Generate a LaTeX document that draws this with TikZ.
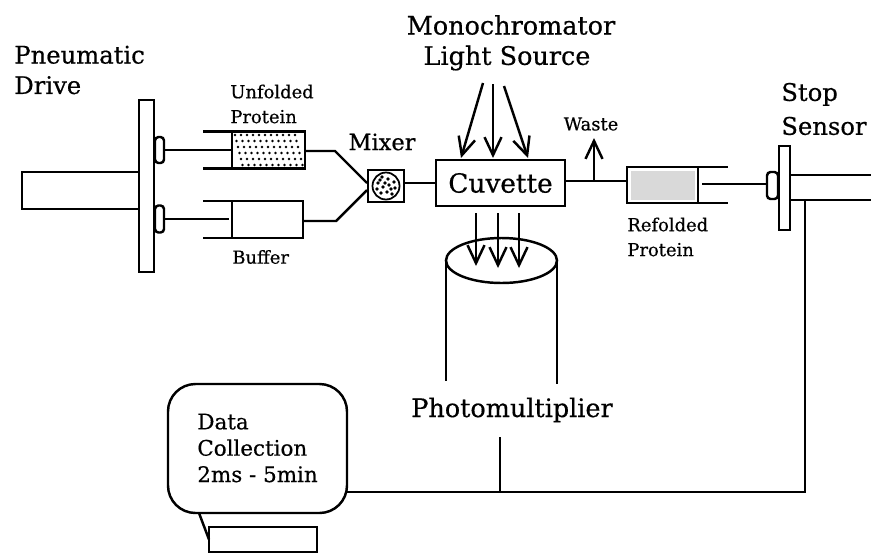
\documentclass[tikz,border=0pt]{standalone}
\usepackage{fontspec}
\setmainfont{DejaVu Serif}[RawFeature={embolden=0.5}]
\usetikzlibrary{arrows.meta,calc}
\tikzset{
  x=0.02cm, y=-0.02cm,
  part/.style 2 args={draw, line width=1.4pt, inner sep=0pt, outer sep=0pt, minimum width=#1*0.02cm, minimum height=#2*0.02cm},
  line/.style={line width=1.4pt},
  ray/.style={line width=1.4pt, -{Straight Barb[length=3.6mm,width=3.4mm]}},
  biglabel/.style={inner sep=0pt, font=\fontsize{14.5}{14.5}\selectfont},
  midlabel/.style={inner sep=0pt, font=\fontsize{13.8}{13.8}\selectfont},
  smalllabel/.style={inner sep=0pt, font=\fontsize{10.2}{10.2}\selectfont}
}
\begin{document}
\begin{tikzpicture}
  \useasboundingbox (0,0) rectangle (871,555);
  % drive
  \node[part={15}{172}] (plate) at (146.5,186) {};
  \node[part={9}{26}, rounded corners=2pt] (knobtop) at (159.5,150) {};
  \node[part={9}{27}, rounded corners=2pt] (knobbot) at (159.5,219) {};
  \coordinate (drivea) at (22,172);
  \coordinate (driveb) at (22,209);
  \draw[line] (plate.west |- drivea) -- (drivea) -- (driveb) -- (plate.west |- driveb);
  % syringes
  \node[part={73}{37}] (unfolded) at (268.5,150) {};
  \foreach \i in {0,...,10}
    \foreach \j in {0,...,5}
      \fill ($(unfolded.north west)+(\i*6+3+1.5*\j,\j*6+3.5)$) circle (0.028cm);
  \node[part={71}{37}] (buffer) at (267.5,219.5) {};
  \coordinate (unfa) at (203,131.5);
  \coordinate (unfb) at (203,168.5);
  \coordinate (bufa) at (203,201);
  \coordinate (bufb) at (203,238);
  \draw[line] (unfa) -- (unfa -| unfolded.west);
  \draw[line] (unfb) -- (unfb -| unfolded.west);
  \draw[line] (bufa) -- (bufa -| buffer.west);
  \draw[line] (bufb) -- (bufb -| buffer.west);
  \draw[line] (knobtop.east) -- (knobtop.east -| unfolded.west);
  \coordinate (bufrod) at (229,219);
  \draw[line] (knobbot.east) -- (bufrod);
  % mixer
  \node[part={36}{32}, line width=1pt] (mixer) at (386,186) {};
  \node[draw, circle, line width=1pt, inner sep=0pt, minimum size=0.54cm] (mixball) at (mixer) {};
  \foreach \dx/\dy in {-8/-3,-4/-9,2/-7,8/-4,-9/3,-3/1,3/-1,9/2,-5/7,1/6,6/8,-1/-3,5/3,-6/-6}
    \fill ($(mixball)+(\dx,\dy)$) circle (0.036cm);
  \coordinate (benda) at (335,151);
  \coordinate (bendb) at (336,221);
  \coordinate (mixa) at (367,183);
  \coordinate (mixb) at (367,190);
  \draw[line] (unfolded.east |- benda) -- (benda) -- (mixa);
  \draw[line] (buffer.east |- bendb) -- (bendb) -- (mixb);
  % cuvette
  \node[part={129}{46}, font=\fontsize{15}{15}\selectfont] (cuvette) at (500.5,183) {Cuvette};
  \draw[line] (mixer.east |- cuvette.west) -- (cuvette.west);
  % refolded
  \node[part={71}{36}] (refolded) at (662.5,185) {};
  \node[fill=gray!30, inner sep=0pt, minimum width=1.28cm, minimum height=0.58cm] (refgrain) at (refolded) {};
  \draw[line] (cuvette.east |- 0,181) coordinate (cuvout) -- (cuvout -| refolded.west);
  \coordinate (wastetip) at (594,138);
  \draw[ray] (wastetip |- cuvout) -- (wastetip);
  \coordinate (refa) at (728,167);
  \coordinate (refb) at (728,203);
  \draw[line] (refolded.north east) -- (refa);
  \draw[line] (refolded.south east) -- (refb);
  % stop
  \node[part={11}{27}, rounded corners=2pt] (knobstop) at (772.5,185.5) {};
  \node[part={11}{84}] (stopplate) at (784.5,188) {};
  \coordinate (rodstart) at (702,184);
  \draw[line] (rodstart) -- (knobstop.west |- rodstart);
  \coordinate (stopa) at (871,175);
  \coordinate (stopb) at (871,200);
  \draw[line] (stopplate.east |- stopa) -- (stopa);
  \draw[line] (stopplate.east |- stopb) -- (stopb);
  % light source
  \coordinate (lighta) at (483,83);
  \coordinate (lightb) at (493,84);
  \coordinate (lightc) at (504,86);
  \draw[ray] (lighta) -- (461,158);
  \draw[ray] (lightb) -- (493,158);
  \draw[ray] (lightc) -- (528,158);
  % photomultiplier
  \coordinate (pmtop) at (501.5,260.5);
  \draw[line] (pmtop) ellipse (55.5 and 22.5);
  \coordinate (pmleft) at (446,381);
  \coordinate (pmright) at (557,384);
  \draw[line] (446,260) -- (pmleft);
  \draw[line] (557,260) -- (pmright);
  \draw[ray] (476,213) -- (476,266);
  \draw[ray] (498,213) -- (498,268);
  \draw[ray] (519,213) -- (519,268);
  % data collection
  \node[part={179}{129}, rounded corners=0.55cm] (monitor) at (257.5,448.5) {};
  \node[part={108}{25}] (printer) at (263,539.5) {};
  \coordinate (monfoot) at (199,513);
  \draw[line] (monfoot) -- (printer.west);
  \coordinate (sensorcorner) at (805,492);
  \coordinate (sensortop) at (805,200);
  \coordinate (pmjoin) at (500,492);
  \coordinate (pmbottom) at (500,437);
  \draw[line] (sensortop) -- (sensorcorner) -- (sensorcorner -| monitor.east);
  \draw[line] (pmbottom) -- (pmjoin);
  % labels
  \node[midlabel, align=left, anchor=west] (drivelabel) at (14,70) {Pneumatic\\[3.5pt]Drive};
  \node[biglabel] (monolabel) at (511,25) {Monochromator};
  \node[biglabel] (lightlabel) at (507,58) {Light Source};
  \node[midlabel, align=left, anchor=west] (stoplabel) at (781,109) {Stop\\[5.5pt]Sensor};
  \node[midlabel, font=\fontsize{12.8}{12.8}\selectfont] (mixerlabel) at (382,142) {Mixer};
  \node[biglabel] (pmlabel) at (512,410) {Photomultiplier};
  \node[smalllabel, align=left, anchor=west] (unflabel) at (230,104) {Unfolded\\[4pt]Protein};
  \node[smalllabel, anchor=west] (buflabel) at (232,257) {Buffer};
  \node[smalllabel] (wastelabel) at (591,124) {Waste};
  \node[smalllabel, align=left, anchor=west] (reflabel) at (627,237) {Refolded\\[4pt]Protein};
  \node[midlabel, font=\fontsize{12.2}{12.2}\selectfont, align=left, anchor=west] (datalabel) at (197,448) {Data\\[2.8pt]Collection\\[2.8pt]2ms - 5min};
\end{tikzpicture}
\end{document}
